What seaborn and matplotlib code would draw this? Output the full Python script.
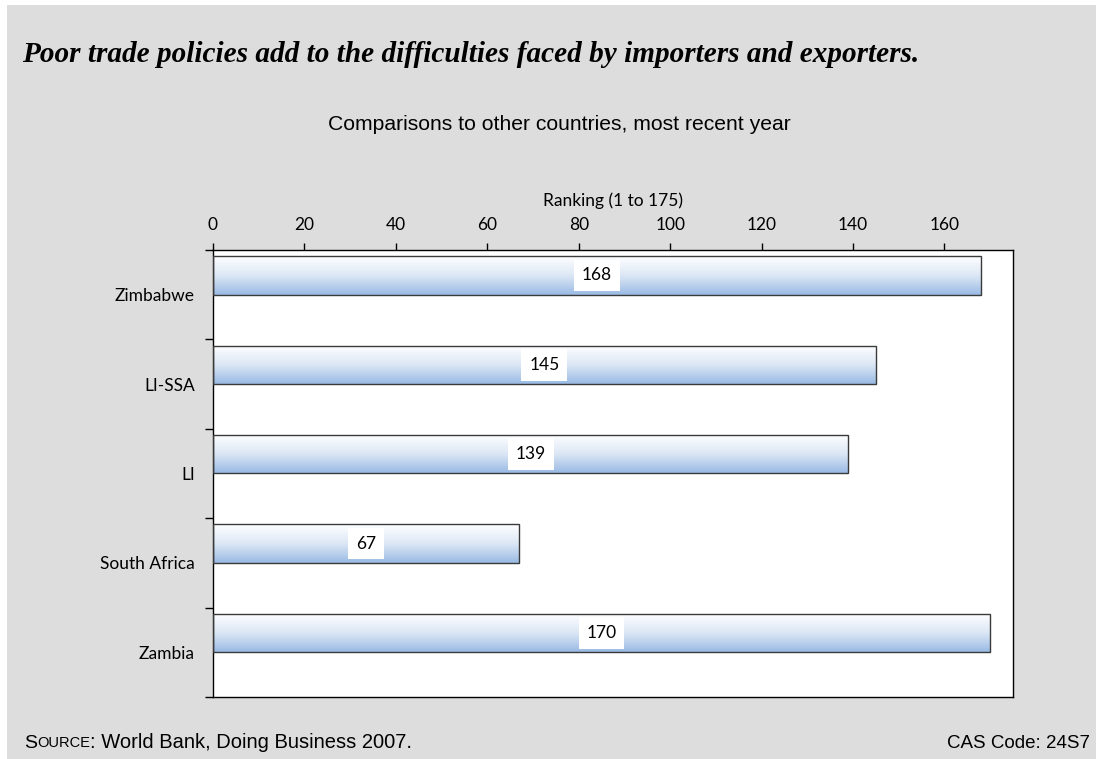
import numpy as np
import pandas as pd
import matplotlib
matplotlib.use("Agg")
import matplotlib.pyplot as plt
from matplotlib.colors import LinearSegmentedColormap
from matplotlib.patches import Rectangle
import seaborn as sns

# Data
countries = ["Zimbabwe", "LI-SSA", "LI", "South Africa", "Zambia"]
ranks = [168, 145, 139, 67, 170]
x_ticks = [0, 20, 40, 60, 80, 100, 120, 140, 160]
x_max = 175

title = "Poor trade policies add to the difficulties faced by importers and exporters."
subtitle = "Comparisons to other countries, most recent year"
axis_label = "Ranking (1 to 175)"
code_text = "CAS Code: 24S7"

sns.set_theme(style="white")
plt.rcParams["font.family"] = ["Lato", "DejaVu Sans"]
plt.rcParams["text.color"] = "black"
plt.rcParams["axes.labelcolor"] = "black"
plt.rcParams["xtick.color"] = "black"
plt.rcParams["ytick.color"] = "black"

W, H = 1096, 759
fig = plt.figure(figsize=(W / 100, H / 100), dpi=100, facecolor="white")

# grey panel behind everything
fig.patches.append(Rectangle((7 / W, 0), 1, 1 - 5 / H, transform=fig.transFigure,
                             facecolor="#dddddd", edgecolor="none", zorder=-10))

ax = fig.add_axes([213 / W, 1 - 697 / H, 800 / W, 447 / H])
ax.set_facecolor("white")

# two hue levels so each bar sits in the upper half of its band
df = pd.DataFrame({
    "country": countries + countries,
    "rank": ranks + [np.nan] * len(countries),
    "series": ["rank"] * len(countries) + ["pad"] * len(countries),
})
sns.barplot(data=df, y="country", x="rank", hue="series", hue_order=["rank", "pad"],
            order=countries, orient="h", dodge=True, width=0.86, legend=False,
            palette=["#9dbde5", "#9dbde5"], ax=ax)

cmap = LinearSegmentedColormap.from_list("barfade", ["#ffffff", "#dce7f5", "#99bae4"])
grad = np.linspace(0, 1, 256).reshape(-1, 1)

bars = [p for p in ax.patches if np.isfinite(p.get_width()) and p.get_width() > 0]
for p in bars:
    x0 = p.get_x()
    y0 = p.get_y()
    w = p.get_width()
    h = p.get_height()
    im = ax.imshow(grad, cmap=cmap, aspect="auto", origin="upper",
                   extent=(x0, x0 + w, y0 + h, y0), zorder=2, interpolation="bilinear")
    im.set_clip_path(p)
    p.set_facecolor("none")
    p.set_edgecolor("#3a3a3a")
    p.set_linewidth(1.0)
    p.set_zorder(3)
    ax.text(x0 + w / 2, y0 + h / 2, f"{int(round(w))}", ha="center", va="center",
            fontsize=12.5, color="black", zorder=4,
            bbox=dict(boxstyle="square,pad=0.45", fc="white", ec="none"))

ax.set_xlim(0, x_max)
ax.set_ylim(len(countries) - 0.5, -0.5)

# x axis on top
ax.xaxis.tick_top()
ax.xaxis.set_label_position("top")
ax.set_xticks(x_ticks)
ax.set_xticklabels([str(t) for t in x_ticks], fontsize=12.5)
ax.set_xlabel(axis_label, fontsize=12.5, labelpad=8)
ax.tick_params(axis="x", which="major", direction="out", length=5, width=1,
               color="black", top=True, bottom=False, pad=7)

# y axis: labels at band centres, tick marks at band edges
ax.set_ylabel("")
ax.set_yticks(range(len(countries)))
ax.set_yticklabels(countries, fontsize=12.5)
ax.set_yticks(np.arange(-0.5, len(countries)), minor=True)
ax.tick_params(axis="y", which="major", length=0, pad=13)
ax.tick_params(axis="y", which="minor", direction="out", length=6, width=1,
               color="black", left=True)

for s in ax.spines.values():
    s.set_visible(True)
    s.set_color("black")
    s.set_linewidth(1.0)

# texts
fig.text(22 / W, 1 - 62 / H, title, fontsize=21.1, fontweight="bold", fontstyle="italic",
         family=["Liberation Serif", "DejaVu Serif"], ha="left", va="baseline")
fig.text(559 / W, 1 - 125 / H, subtitle, fontsize=15.2,
         family=["Liberation Sans", "DejaVu Sans"], ha="center", va="center")

src = fig.text(24 / W, 1 - 743 / H, "S", fontsize=14,
               family=["Liberation Sans", "DejaVu Sans"], ha="left", va="center")
fig.canvas.draw()
bb = src.get_window_extent()
src2 = fig.text(bb.x1 / W, 1 - 743 / H, "OURCE", fontsize=10.5,
                family=["Liberation Sans", "DejaVu Sans"], ha="left", va="center")
fig.canvas.draw()
bb2 = src2.get_window_extent()
fig.text(bb2.x1 / W, 1 - 743 / H, ": World Bank, Doing Business 2007.", fontsize=14.5,
         family=["Liberation Sans", "DejaVu Sans"], ha="left", va="center")
fig.text(1090 / W, 1 - 743 / H, code_text, fontsize=13.5,
         family=["Liberation Sans", "DejaVu Sans"], ha="right", va="center")

fig.savefig("out.png", dpi=100, facecolor="white")
